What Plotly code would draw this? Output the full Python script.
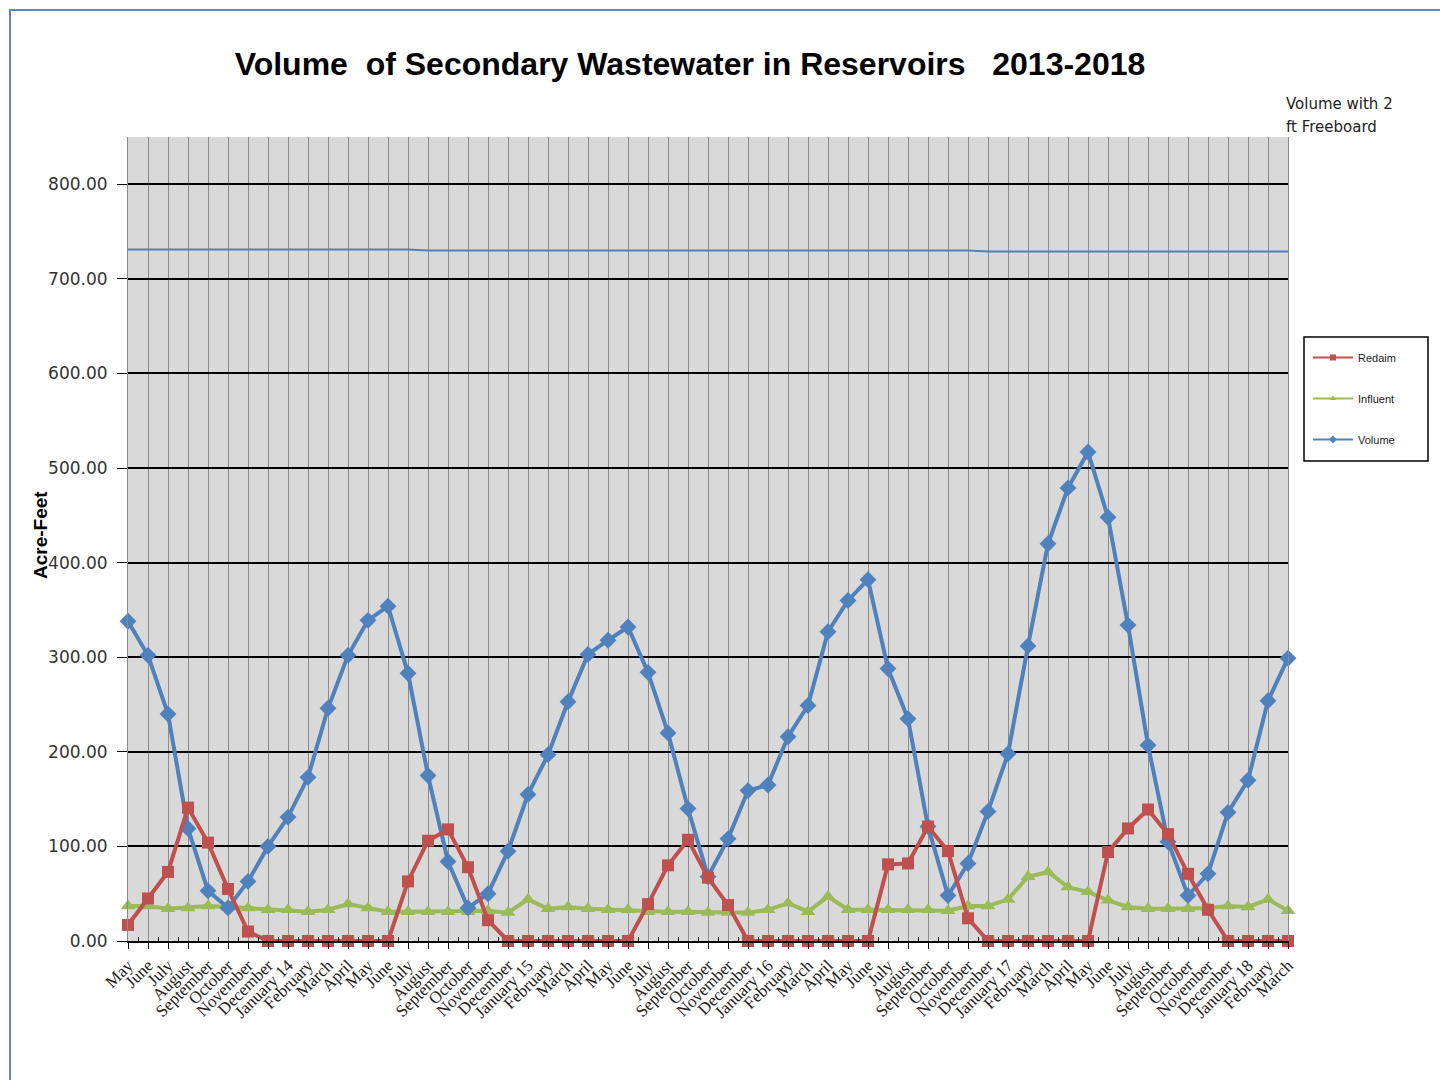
import plotly.graph_objects as go

months = ["May", "June", "July", "August", "September", "October", "November", "December",
          "January 14", "February", "March", "April", "May", "June", "July", "August",
          "September", "October", "November", "December",
          "January 15", "February", "March", "April", "May", "June", "July", "August",
          "September", "October", "November", "December",
          "January 16", "February", "March", "April", "May", "June", "July", "August",
          "September", "October", "November", "December",
          "January 17", "February", "March", "April", "May", "June", "July", "August",
          "September", "October", "November", "December",
          "January 18", "February", "March"]

reclaim = [17, 45, 73, 141, 104, 55, 10, 0, 0, 0, 0, 0, 0, 0,
           63, 106, 118, 78, 22, 0,
           0, 0, 0, 0, 0, 0, 39, 80, 107, 67, 38, 0,
           0, 0, 0, 0, 0, 0, 81, 82, 121, 95, 24, 0,
           0, 0, 0, 0, 0, 94, 119, 139, 113, 71, 33, 0,
           0, 0, 0]

influent = [37, 37, 34, 35, 37, 36, 35, 33, 33, 31, 33, 39, 35, 31, 31, 31, 31, 31, 32, 30,
            44, 34, 36, 34, 33, 33, 31, 31, 31, 30, 30, 30,
            33, 40, 31, 47, 33, 33, 33, 33, 33, 32, 37, 37,
            44, 68, 73, 57, 52, 43, 36, 34, 34, 34, 35, 37,
            36, 44, 32]

volume = [338, 302, 240, 119, 53, 35, 63, 100, 131, 173, 246, 302, 339, 354, 283, 175,
          84, 35, 50, 95,
          155, 197, 253, 303, 318, 332, 284, 220, 140, 68, 108, 159,
          165, 216, 249, 327, 360, 382, 288, 235, 121, 48, 82, 137,
          198, 312, 420, 479, 517, 448, 334, 207, 105, 48, 71, 136,
          170, 254, 299]

freeboard = [731, 731, 731, 731, 731, 731, 731, 731, 731, 731, 731, 731, 731, 731, 731, 730,
             730, 730, 730, 730, 730, 730, 730, 730, 730, 730, 730, 730, 730, 730, 730, 730,
             730, 730, 730, 730, 730, 730, 730, 730, 730, 730, 730, 729, 729, 729, 729, 729,
             729, 729, 729, 729, 729, 729, 729, 729, 729, 729, 729]

y_ticks = [0, 100, 200, 300, 400, 500, 600, 700, 800]

RED = "#C0504D"
GREEN = "#9BBB59"
BLUE = "#4F81BD"

x = list(range(len(months)))

# page offset of the figure (browser body margin)
OFF = 8
PL, PR, PT, PB = 128, 1288, 137, 941   # plot area in page pixels
PW, PH = PR - PL, PB - PT


def px(xp):
    return (xp - PL) / PW


def py(yp):
    return (PB - yp) / PH


fig = go.Figure()

fig.add_trace(go.Scatter(x=x, y=freeboard, mode="lines", name="Volume with 2 ft Freeboard",
                         line=dict(color=BLUE, width=2), showlegend=False))
fig.add_trace(go.Scatter(x=x, y=influent, mode="lines+markers", name="Influent",
                         line=dict(color=GREEN, width=4),
                         marker=dict(symbol="triangle-up", size=13, color=GREEN),
                         cliponaxis=False, showlegend=False))
fig.add_trace(go.Scatter(x=x, y=volume, mode="lines+markers", name="Volume",
                         line=dict(color=BLUE, width=4),
                         marker=dict(symbol="diamond", size=13, color=BLUE),
                         cliponaxis=False, showlegend=False))
fig.add_trace(go.Scatter(x=x, y=reclaim, mode="lines+markers", name="Reclaim",
                         line=dict(color=RED, width=4),
                         marker=dict(symbol="square", size=12, color=RED),
                         cliponaxis=False, showlegend=False))

# legend-only entries (small symbols like the original)
for nm, col, sym in [("Redaim", RED, "square"), ("Influent", GREEN, "triangle-up"),
                     ("Volume", BLUE, "diamond")]:
    fig.add_trace(go.Scatter(x=[None], y=[None], mode="lines+markers", name=nm,
                             legendgroup=nm,
                             line=dict(color=col, width=2),
                             marker=dict(symbol=sym, size=6, color=col)))

fig.update_layout(
    width=1448, height=1080,
    margin=dict(l=PL - OFF, r=1448 - (PR - OFF), t=PT - OFF, b=1080 - (PB - OFF)),
    paper_bgcolor="white",
    plot_bgcolor="#D9D9D9",
    title=dict(text="<b>Volume  of Secondary Wastewater in Reservoirs   2013-2018</b>",
               x=(690 - OFF) / 1448, xanchor="center", y=1 - (64 - OFF) / 1080, yanchor="middle",
               font=dict(family="Liberation Sans", size=32, color="black")),
    showlegend=True,
    legend=dict(x=px(1308), y=py(343), xanchor="left", yanchor="top",
                bgcolor="rgba(0,0,0,0)", borderwidth=0,
                font=dict(family="Liberation Sans", size=11, color="#222"),
                tracegroupgap=22, traceorder="grouped", itemwidth=40),
    font=dict(family="Liberation Sans"),
)

fig.update_xaxes(
    range=[0, len(months) - 1],
    tickmode="array", tickvals=x, ticktext=months, tickangle=-45,
    tickfont=dict(family="Liberation Serif", size=17, color="#222"),
    showgrid=True, gridcolor="#8C8C8C", gridwidth=1,
    showline=True, linecolor="black", linewidth=1.5,
    ticks="outside", ticklen=6, tickcolor="black",
    minor=dict(tick0=0.5, dtick=1, ticks="inside", ticklen=4, tickcolor="black", showgrid=False),
    zeroline=False,
)

fig.update_yaxes(
    range=[0, 850],
    tickmode="array", tickvals=y_ticks, ticktext=[f"{v:.2f}" for v in y_ticks],
    tickfont=dict(family="DejaVu Sans", size=17, color="#333"),
    ticklabelstandoff=6,
    showgrid=True, gridcolor="black", gridwidth=1.5,
    showline=True, linecolor="#8C8C8C", linewidth=1, mirror=True,
    ticks="outside", ticklen=10, tickcolor="black",
    zeroline=False,
)

fig.add_annotation(text="<b>Acre-Feet</b>", xref="paper", yref="paper",
                   x=px(40), y=py(535), textangle=-90,
                   showarrow=False, xanchor="center", yanchor="middle",
                   font=dict(family="Liberation Sans", size=19, color="black"))

fig.add_annotation(text="Volume with 2", xref="paper", yref="paper",
                   x=px(1284), y=py(104), showarrow=False,
                   xanchor="left", yanchor="middle", align="left",
                   font=dict(family="DejaVu Sans", size=15, color="#222"))
fig.add_annotation(text="ft Freeboard", xref="paper", yref="paper",
                   x=px(1284), y=py(127), showarrow=False,
                   xanchor="left", yanchor="middle", align="left",
                   font=dict(family="DejaVu Sans", size=15, color="#222"))

# legend frame
fig.add_shape(type="rect", xref="paper", yref="paper",
              x0=px(1304), x1=px(1428), y0=py(461), y1=py(337),
              line=dict(color="black", width=1.5), fillcolor="white", layer="below")

# outer frame (kept just inside the figure canvas)
fig.add_shape(type="rect", xref="paper", yref="paper",
              x0=px(OFF + 2), x1=px(1443), y0=py(1100), y1=py(OFF + 2),
              line=dict(color="#5B87C5", width=2), fillcolor="rgba(0,0,0,0)", layer="below")

fig.write_html("out.html")
